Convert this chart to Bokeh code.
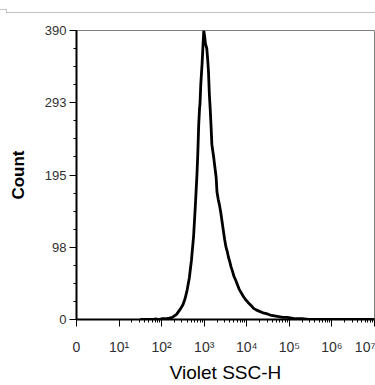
from bokeh.plotting import figure
from bokeh.models import Range1d, FixedTicker, Div
from bokeh.layouts import column
from bokeh.embed import file_html
from bokeh.resources import INLINE
import math

# ---- data (x in display decades, y = count) ----
ssc_decade = [1.50, 1.80, 1.86, 1.92, 2.00, 2.10, 2.18, 2.25, 2.30, 2.35, 2.40, 2.45,
              2.50, 2.55, 2.60, 2.65, 2.70, 2.75, 2.79, 2.83, 2.85, 2.87, 2.89, 2.90,
              2.92, 2.95, 2.97, 2.99, 3.01, 3.03, 3.06, 3.08, 3.10, 3.12, 3.14, 3.16,
              3.18, 3.20, 3.22, 3.25, 3.28, 3.30, 3.33, 3.36, 3.39, 3.42, 3.45, 3.48,
              3.51, 3.54, 3.57, 3.60, 3.63, 3.66, 3.70, 3.74, 3.78, 3.82, 3.87, 3.92,
              3.97, 4.03, 4.10, 4.16, 4.22, 4.30, 4.38, 4.46, 4.55, 4.65, 4.75, 4.85,
              4.95, 5.05, 5.15, 5.30, 5.45, 7.00]
count = [0, 0, 1, 0, 1, 1, 2, 3, 5, 7, 11, 15,
         20, 28, 40, 56, 80, 112, 152, 196, 225, 262, 285, 290,
         318, 345, 368, 390, 382, 372, 366, 352, 335, 305, 285, 262,
         236, 228, 220, 206, 192, 172, 162, 154, 144, 132, 120, 108,
         98, 92, 84, 78, 71, 66, 58, 53, 47, 41, 36, 31,
         27, 23, 19, 15, 13, 11, 9, 8, 6, 5, 4, 3,
         3, 2, 1, 1, 0, 0]

x_ticks = [0, 1, 2, 3, 4, 5, 6, 7]
x_tick_labels = ["0", "10\u00b9", "10\u00b2", "10\u00b3", "10\u2074", "10\u2075", "10\u2076", "10\u2077"]
y_ticks = [0, 97.5, 195, 292.5, 390]
y_tick_labels = ["0", "98", "195", "293", "390"]

FONT = "Liberation Sans"

p = figure(width=375, height=371, x_range=Range1d(0, 7.0), y_range=Range1d(0, 390),
           output_backend="svg", toolbar_location=None,
           min_border_left=76, min_border_right=1, min_border_top=16, min_border_bottom=64)

p.line(ssc_decade, count, line_color="black", line_width=2.8)

# x axis
x_minor = [d + math.log10(k) for d in range(1, 7) for k in range(2, 10)]
p.xaxis.ticker = FixedTicker(ticks=x_ticks, minor_ticks=x_minor)
p.xaxis.major_label_overrides = {t: l for t, l in zip(x_ticks, x_tick_labels)}
p.xaxis.axis_label = "Violet SSC-H"

# y axis
y_minor = [i * 390 / 16 for i in range(17)]
p.yaxis.ticker = FixedTicker(ticks=y_ticks, minor_ticks=y_minor)
p.yaxis.major_label_overrides = {t: l for t, l in zip(y_ticks, y_tick_labels)}
p.yaxis.axis_label = "Count"

for ax in (p.xaxis[0], p.yaxis[0]):
    ax.axis_line_color = "black"
    ax.axis_line_width = 2
    ax.major_tick_line_color = "black"
    ax.minor_tick_line_color = "black"
    ax.major_tick_in = 0
    ax.minor_tick_in = 0
    ax.major_tick_out = 7
    ax.minor_tick_out = 3
    ax.major_label_text_font = FONT
    ax.major_label_text_color = "#303030"
    ax.axis_label_text_font = FONT
    ax.axis_label_text_color = "black"

p.yaxis.major_label_text_font_size = "13px"
p.yaxis.major_label_standoff = 3
p.yaxis.axis_label_text_font_size = "17px"
p.yaxis.axis_label_text_font_style = "bold"
p.yaxis.axis_label_standoff = 14

p.xaxis.major_label_text_font_size = "14px"
p.xaxis.major_label_standoff = 12
p.xaxis.axis_label_text_font_size = "19px"
p.xaxis.axis_label_text_font_style = "normal"
p.xaxis.axis_label_standoff = 4

p.xgrid.visible = False
p.ygrid.visible = False
p.outline_line_color = "#7f7f7f"
p.outline_line_width = 1
p.background_fill_color = "white"
p.border_fill_alpha = 0

rule_html = ('<div style="display:block;position:relative;width:375px;min-width:375px;height:14px;">'
             '<div style="position:absolute;left:0;top:9px;width:7px;height:1px;background:#c8c8c8;"></div>'
             '<div style="position:absolute;left:6px;top:9px;width:1px;height:4px;background:#c8c8c8;"></div>'
             '<div style="position:absolute;left:6px;top:12px;width:369px;min-width:369px;height:1px;'
             'background:#c0c0c0;"></div>'
             '</div>')
top_rule = Div(text=rule_html, width=375, height=14, margin=(0, 0, 0, 0),
               styles={"width": "375px", "overflow": "visible"})

layout = column(top_rule, p, spacing=0)
open("out.html", "w").write(file_html(layout, INLINE))
